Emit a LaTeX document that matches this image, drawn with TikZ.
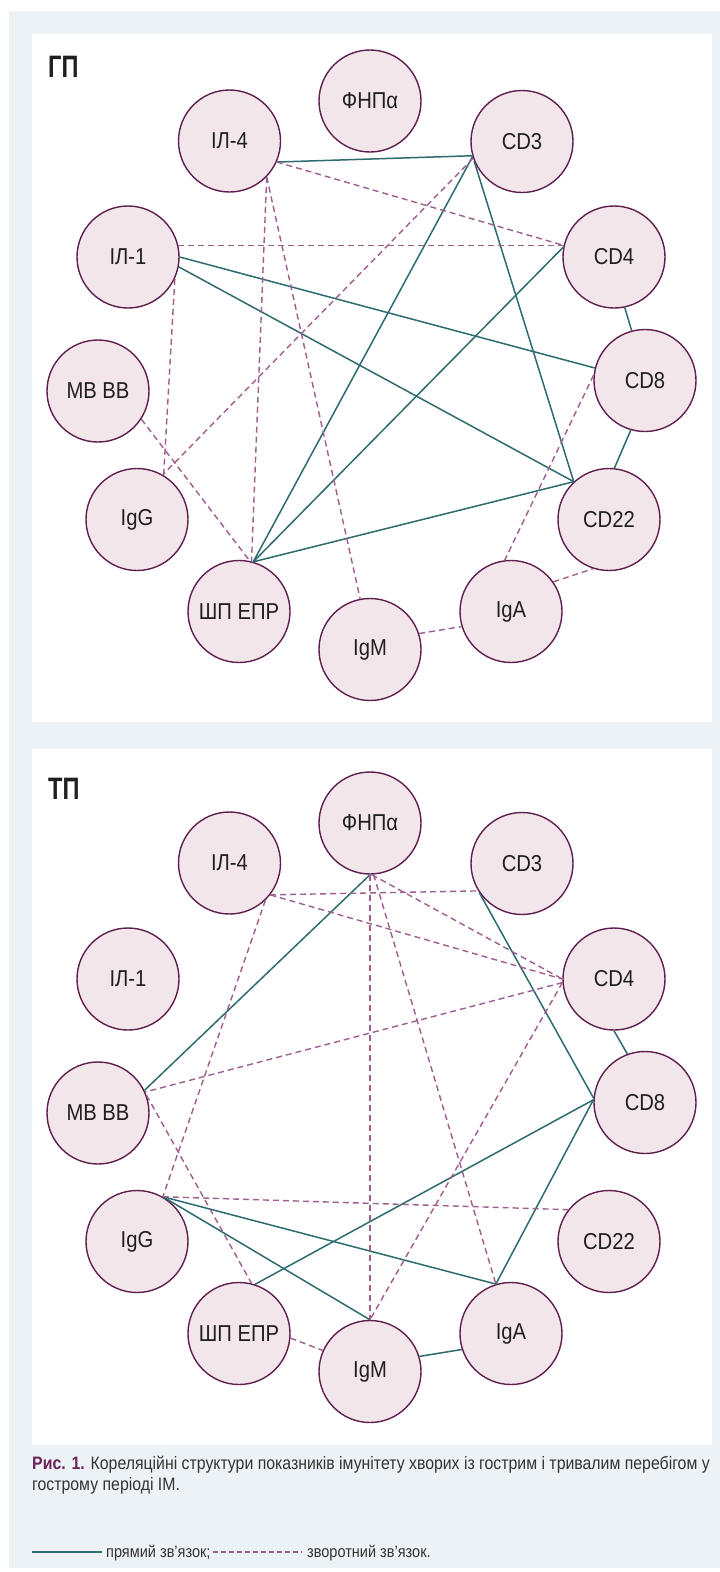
\documentclass[tikz,border=0pt]{standalone}
\usepackage{fontspec}
\setmainfont{Liberation Sans}[FakeStretch=0.88]
\newfontfamily\panelfont{Liberation Sans}[FakeStretch=0.76]
\definecolor{bgGray}{HTML}{EDF2F6}
\definecolor{ringPurple}{HTML}{5E1F4E}
\definecolor{cellPink}{HTML}{F3E6EA}
\definecolor{posTeal}{HTML}{2D6B6F}
\definecolor{negPurple}{HTML}{9E5E8E}
\definecolor{capPurple}{HTML}{6B2457}
\definecolor{txtGray}{HTML}{333333}
\begin{document}
\begin{tikzpicture}[x=1pt, y=-1pt,
  cell/.style={circle, draw=ringPurple, line width=1.4pt, fill=cellPink, minimum size=102pt, inner sep=0pt, text=black!88, font=\fontsize{23}{27}\selectfont},
  panelname/.style={anchor=base west, inner sep=0pt, text=black!88, font=\panelfont\bfseries\fontsize{31}{34}\selectfont},
  poslink/.style={draw=posTeal, line width=1.5pt},
  neglink/.style={draw=negPurple, line width=1.4pt, dash pattern=on 6pt off 4pt}]
\useasboundingbox (0,0) rectangle (720,1572);
\fill[bgGray] (9,11) rectangle (720,1568);
\fill[white] (32,34) rectangle (712,722);
\fill[white] (32,749) rectangle (712,1445);
%%%%%%%%%%%%%%%%%%%%%%%%%%%%%%% ГП
\node[panelname](gpName) at (48,77){ГП};
\node[cell](gpFnp) at (370,101){ФНПα};
\node[cell](gpIl4) at (229.5,141){ІЛ-4};
\node[cell](gpCd3) at (522,141.5){CD3};
\node[cell](gpIl1) at (128,257){ІЛ-1};
\node[cell](gpCd4) at (614,257){CD4};
\node[cell](gpCd8) at (645,380.5){CD8};
\node[cell](gpMb) at (98,391){МВ ВВ};
\node[cell](gpIgg) at (137,519.5){IgG};
\node[cell](gpCd22) at (609,519.5){CD22};
\node[cell](gpShp) at (239,611.5){ШП ЕПР};
\node[cell](gpIgm) at (370,649.5){IgM};
\node[cell](gpIga) at (511,611.5){IgA};
% прямі
\draw[poslink] (gpIl4.336) -- (gpCd3.196);
\draw[poslink] (gpCd3.197) -- (gpShp.74);
\draw[poslink] (gpCd3.202) -- (gpCd22.133);
\draw[poslink] (gpIl1.0) -- (gpCd8.166);
\draw[poslink] (gpIl1.349) -- (gpCd22.133);
\draw[poslink] (gpCd4.169) -- (gpShp.74);
\draw[poslink] (gpCd4.282) -- (gpCd8.105);
\draw[poslink] (gpCd8.254) -- (gpCd22.84);
\draw[poslink] (gpCd22.133) -- (gpShp.74);
% зворотні
\draw[neglink] (gpIl4.336) -- (gpCd4.167);
\draw[neglink] (gpIl1.13) -- (gpCd4.167);
\draw[neglink] (gpIl4.316) -- (gpShp.76);
\draw[neglink] (gpIl4.316) -- (gpIgm.101);
\draw[neglink] (gpCd3.199) -- (gpIgg.60);
\draw[neglink] (gpIl1.335) -- (gpIgg.59);
\draw[neglink] (gpMb.327) -- (gpShp.78);
\draw[neglink] (gpCd8.174) -- (gpIga.97);
\draw[neglink] (gpIga.35) -- (gpCd22.252);
\draw[neglink] (gpIgm.18) -- (gpIga.197);

%%%%%%%%%%%%%%%%%%%%%%%%%%%%%%% ТП
\node[panelname](tpName) at (48,799){ТП};
\node[cell](tpFnp) at (370,823){ФНПα};
\node[cell](tpIl4) at (229.5,863){ІЛ-4};
\node[cell](tpCd3) at (522,863.5){CD3};
\node[cell](tpIl1) at (128,979){ІЛ-1};
\node[cell](tpCd4) at (614,979){CD4};
\node[cell](tpCd8) at (645,1102.5){CD8};
\node[cell](tpMb) at (98,1113){МВ ВВ};
\node[cell](tpIgg) at (137,1241.5){IgG};
\node[cell](tpCd22) at (609,1241.5){CD22};
\node[cell](tpShp) at (239,1333.5){ШП ЕПР};
\node[cell](tpIgm) at (370,1371.5){IgM};
\node[cell](tpIga) at (511,1333.5){IgA};
% прямі
\draw[poslink] (tpFnp.270) -- (tpMb.26);
\draw[poslink] (tpCd3.214) -- (tpCd8.175);
\draw[poslink] (tpCd4.270) -- (tpCd8.110);
\draw[poslink] (tpCd8.177) -- (tpShp.72);
\draw[poslink] (tpCd8.177) -- (tpIga.107);
\draw[poslink] (tpIgg.60) -- (tpIga.107);
\draw[poslink] (tpIgg.60) -- (tpIgm.90);
\draw[poslink] (tpIgm.17) -- (tpIga.198);
% зворотні
\draw[neglink] (tpIl4.322) -- (tpCd3.212);
\draw[neglink] (tpIl4.322) -- (tpCd4.180);
\draw[neglink] (tpFnp.272) -- (tpCd4.180);
\draw[neglink] (tpFnp.270) -- (tpIgm.90);
\draw[neglink] (tpFnp.274) -- (tpIga.107);
\draw[neglink] (tpCd4.184) -- (tpMb.24);
\draw[neglink] (tpCd4.184) -- (tpIgm.90);
\draw[neglink] (tpIl4.314) -- (tpIgg.60);
\draw[neglink] (tpMb.20) -- (tpShp.76);
\draw[neglink] (tpIgg.60) -- (tpCd22.142);
\draw[neglink] (tpShp.355) -- (tpIgm.156);

%%%%%%%%%%%%%%%%%%%%%%%%%%%%%%% підпис
\node[anchor=base west, inner sep=0pt, align=left, text=txtGray, font=\fontsize{18}{21}\selectfont](caption) at (32,1490){\textcolor{capPurple}{\bfseries Рис. 1.} Кореляційні структури показників імунітету хворих із гострим і тривалим перебігом у\\гострому періоді ІМ.};
\coordinate (posA) at (32,1552);
\coordinate (posB) at (102,1552);
\draw[draw=posTeal, line width=1.6pt] (posA) -- (posB);
\node[anchor=base west, inner sep=0pt, text=txtGray, font=\fontsize{16.5}{21}\selectfont](posText) at (106,1557){прямий зв’язок;};
\coordinate (negA) at (213,1552);
\coordinate (negB) at (302,1552);
\draw[draw=negPurple, line width=1.6pt, dash pattern=on 5pt off 3pt] (negA) -- (negB);
\node[anchor=base west, inner sep=0pt, text=txtGray, font=\fontsize{16.5}{21}\selectfont](negText) at (307,1557){зворотний зв’язок.};
\end{tikzpicture}
\end{document}
